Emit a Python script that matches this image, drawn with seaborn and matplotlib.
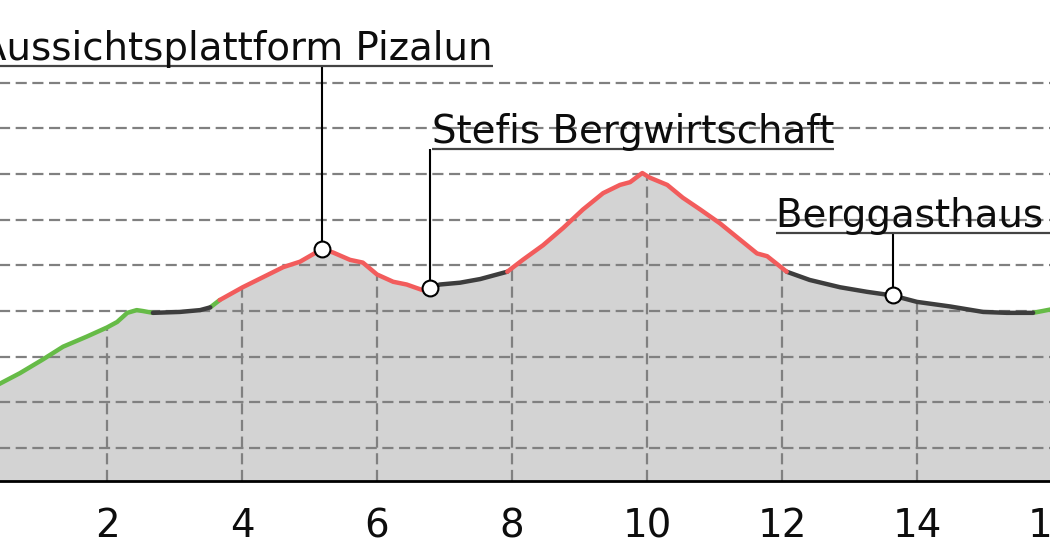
import numpy as np
import pandas as pd
import matplotlib
matplotlib.use("Agg")
import matplotlib.pyplot as plt
import seaborn as sns

# elevation profile (distance in km, elevation in m)
dist_km = [0.40, 0.71, 1.05, 1.35, 1.70, 2.00, 2.15, 2.30, 2.44, 2.53, 2.68,
           3.08, 3.38, 3.53, 3.67, 4.01, 4.31, 4.61, 4.86, 5.19, 5.35, 5.60,
           5.79, 6.00, 6.24, 6.44, 6.67, 6.79, 6.93, 7.23, 7.53, 7.93, 8.16,
           8.46, 8.76, 9.05, 9.35, 9.60, 9.75, 9.93, 10.04, 10.30, 10.53,
           10.79, 11.08, 11.38, 11.63, 11.78, 12.07, 12.41, 12.86, 13.26,
           13.64, 14.00, 14.49, 14.98, 15.33, 15.72, 16.00]
elev_m = [770, 782, 797, 811, 822, 832, 838, 848, 851, 850, 848,
          849, 851, 854, 862, 876, 887, 898, 904, 918, 914, 906,
          903, 890, 882, 879, 873, 875, 879, 881, 885, 893, 906,
          922, 941, 961, 979, 988, 991, 1001, 996, 988, 974,
          961, 946, 928, 913, 910, 893, 884, 876, 871,
          867, 860, 855, 849, 848, 848, 852]

# surface sections: start km and type
seg_start_km = [0.40, 2.68, 3.53, 3.67, 6.79, 7.93, 12.07, 15.72]
seg_surface = ["Naturweg", "Asphalt", "Naturweg", "Bergweg",
               "Asphalt", "Bergweg", "Asphalt", "Naturweg"]

poi_names = ["Aussichtsplattform Pizalun", "Stefis Bergwirtschaft", "Berggasthaus "]
poi_km = [5.19, 6.79, 13.64]

x_ticks = [2, 4, 6, 8, 10, 12, 14, 16]
y_grid = [700, 750, 800, 850, 900, 950, 1000, 1050, 1100]

palette = {"Naturweg": "#66bb47", "Bergweg": "#f25c5c", "Asphalt": "#3d3d3d"}

# split profile into contiguous sections for colouring
d = np.array(dist_km)
e = np.array(elev_m)
bounds = seg_start_km + [d.max()]
rows = []
for i, surf in enumerate(seg_surface):
    m = (d >= bounds[i]) & (d <= bounds[i + 1])
    for x, y in zip(d[m], e[m]):
        rows.append({"km": x, "m": y, "surface": surf, "seg": i})
df = pd.DataFrame(rows)

sns.set_theme(style="white")
plt.rcParams["font.family"] = ["DejaVu Sans"]

fig = plt.figure(figsize=(10.5, 5.6), dpi=100)
ax = fig.add_axes([-28 / 1050, 79 / 560, 16.5 * 67.5 / 1050, 435 / 560])
ax.set_xlim(0, 16.5)
ax.set_ylim(664, 1140)

ax.fill_between(d, e, 600, color="#d3d3d3", lw=0, zorder=1)

grid_kw = dict(color="#808080", lw=1.6, linestyle=(0, (5, 2.5)))
ax.set_yticks(y_grid)
ax.yaxis.grid(True, **grid_kw)
ax.xaxis.grid(False)
ax.set_axisbelow(False)
ax.vlines(x_ticks, 664, np.interp(x_ticks, d, e), zorder=2.5, **grid_kw)

sns.lineplot(data=df, x="km", y="m", hue="surface", units="seg",
             estimator=None, sort=False, palette=palette, lw=3.2,
             legend=False, ax=ax, zorder=3)

poi_elev = np.interp(poi_km, d, e)

# label layout: text start (km) and underline height (m)
label_x = [0.12, 6.81, 11.91]
label_y = [1118, 1027, 935]
texts = []
for name, px, py, lx, ly in zip(poi_names, poi_km, poi_elev, label_x, label_y):
    ax.plot([px, px], [py, ly], color="black", lw=1.5, zorder=4,
            solid_capstyle="butt")
    t = ax.annotate(name, xy=(lx, ly), xytext=(0, 4.3), textcoords="offset points",
                    va="baseline", ha="left", fontsize=27.9, color="#0d0d0d",
                    annotation_clip=False, zorder=6)
    texts.append((t, ly))

sns.scatterplot(x=poi_km, y=poi_elev, s=130, color="white", edgecolor="black",
                linewidth=1.5, zorder=5, ax=ax)

fig.canvas.draw()
renderer = fig.canvas.get_renderer()
inv = ax.transData.inverted()
for t, ly in texts:
    bb = t.get_window_extent(renderer)
    x0 = inv.transform((bb.x0, 0))[0]
    x1 = inv.transform((bb.x1, 0))[0]
    ax.plot([x0, x1], [ly, ly], color="#444444", lw=1.6, zorder=4,
            clip_on=False, solid_capstyle="butt")

ax.set_xticks(x_ticks)
ax.set_xticklabels([str(v) for v in x_ticks])
ax.tick_params(axis="x", length=0, pad=19, labelsize=27.9, labelcolor="#0d0d0d")
ax.tick_params(axis="y", length=0, labelleft=False)
ax.set_xlabel("")
ax.set_ylabel("")
for side in ["top", "right", "left"]:
    ax.spines[side].set_visible(False)
ax.spines["bottom"].set_color("black")
ax.spines["bottom"].set_linewidth(2)

fig.savefig("out.png", dpi=100)
